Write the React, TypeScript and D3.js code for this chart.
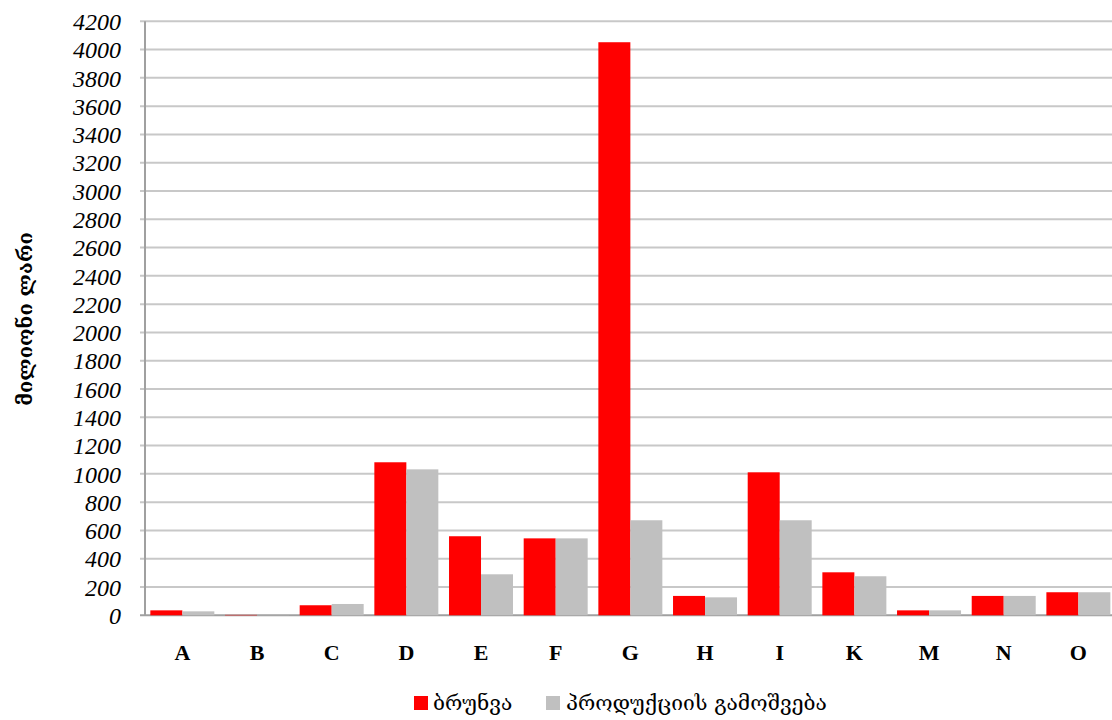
import React from "react";
import * as d3 from "d3";

const categories = ["A", "B", "C", "D", "E", "F", "G", "H", "I", "K", "M", "N", "O"];
const turnover = [35, 3, 71, 1082, 559, 544, 4052, 137, 1011, 304, 35, 137, 163];
const output = [28, 1, 80, 1032, 290, 544, 672, 127, 672, 276, 35, 137, 163];
const yTicks = d3.range(0, 4201, 200);
const seriesNames = ["ბრუნვა", "პროდუქციის გამოშვება"];
const colors = ["#ff0000", "#c0c0c0"];
const yTitle = "მილიონი ლარი";

export default function App() {
  const W = 1112, H = 720;
  const left = 145, right = 145 + 13 * 74.67, top = 21.3, bottom = 615.3;
  const x = d3.scaleBand<string>().domain(categories).range([left, right]).paddingInner(0.143).paddingOuter(0.0715);
  const inner = d3.scaleBand<number>().domain([0, 1]).range([0, x.bandwidth()]);
  const y = d3.scaleLinear().domain([0, 4200]).range([bottom, top]);
  const series = [turnover, output];
  const geo = "'DejaVu Serif', 'DejaVu Sans', serif";
  return (
    <svg width={W} height={H} style={{ position: "absolute", left: 0, top: 0 }}>
      <rect width={W} height={H} fill="#fff" />
      {yTicks.map((t) => (
        <g key={t}>
          <line x1={left - 5} x2={W} y1={y(t)} y2={y(t)} stroke={t === 0 ? "#a0a0a0" : "#c8c8c8"} strokeWidth={2} />
          <text x={121} y={y(t)} dy="0.36em" textAnchor="end" fontFamily="'Liberation Serif', serif" fontStyle="italic" fontSize={24} fill="#000">{t}</text>
        </g>
      ))}
      <line x1={left} x2={left} y1={top} y2={bottom} stroke="#a0a0a0" strokeWidth={2} />
      {series.map((vals, si) =>
        vals.map((v, i) => (
          <rect key={si + "-" + i} x={(x(categories[i]) as number) + (inner(si) as number)} width={inner.bandwidth()} y={y(v)} height={bottom - y(v)} fill={colors[si]} />
        ))
      )}
      {categories.map((c) => (
        <text key={c} x={(x(c) as number) + x.bandwidth() / 2} y={660} textAnchor="middle" fontFamily="'Liberation Serif', serif" fontWeight="bold" fontSize={22} fill="#000">{c}</text>
      ))}
      <text transform={`translate(32,319) rotate(-90)`} textAnchor="middle" fontFamily={geo} fontWeight="bold" fontSize={20} fill="#000">{yTitle}</text>
      <g>
        <rect x={414} y={696} width={14} height={14} fill={colors[0]} />
        <text x={433} y={710} fontFamily={geo} fontSize={21} fill="#000">{seriesNames[0]}</text>
        <rect x={546} y={696} width={14} height={14} fill={colors[1]} />
        <text x={566} y={710} fontFamily={geo} fontSize={21} fill="#000">{seriesNames[1]}</text>
      </g>
    </svg>
  );
}
